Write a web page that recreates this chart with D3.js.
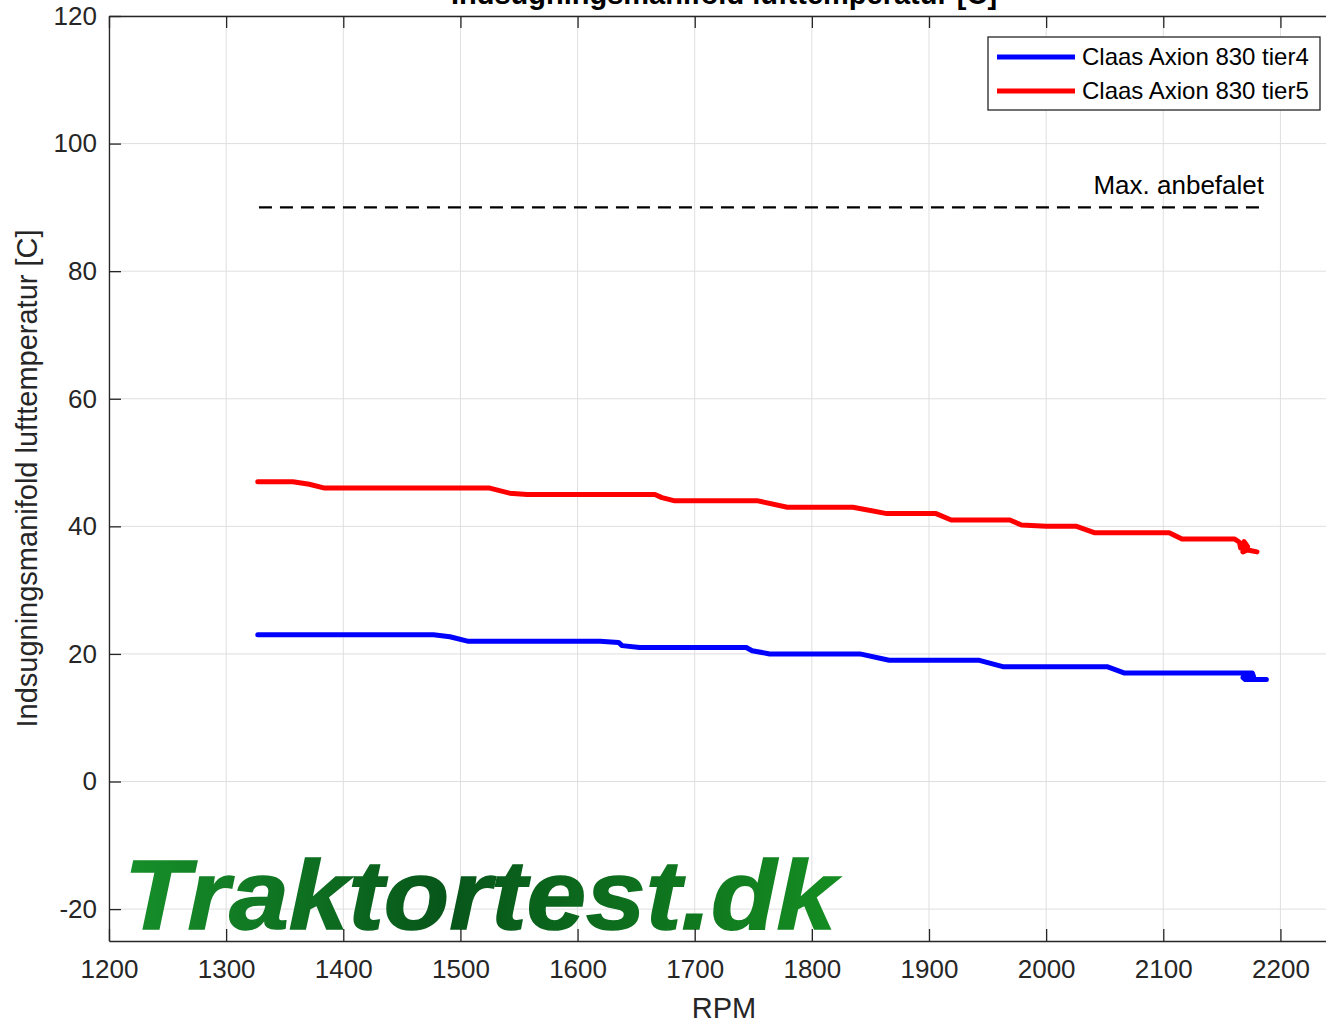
<!DOCTYPE html>
<html>
<head>
<meta charset="utf-8">
<script src="https://cdn.jsdelivr.net/npm/d3@7"></script>
<style>
  body { margin: 0; background: #fff; }
  svg { display: block; font-family: "Liberation Sans", Arial, sans-serif; }
</style>
</head>
<body>
<div id="chart"></div>
<script>
// values
const seriesNames = ["Claas Axion 830 tier4", "Claas Axion 830 tier5"];
const seriesColors = ["#0000ff", "#ff0000"];

const tier4Rpm = [1327, 1477, 1491, 1506, 1619, 1635, 1638, 1653, 1744, 1749, 1764, 1841, 1866, 1943, 1963, 2052, 2067, 2176, 2177, 2168, 2170, 2188];
const tier4Temp = [23, 23, 22.7, 22, 22, 21.8, 21.3, 21, 21, 20.5, 20, 20, 19, 19, 18, 18, 17, 17, 16.5, 16.3, 16, 16];

const tier5Rpm = [1327, 1357, 1371, 1384, 1525, 1542, 1557, 1666, 1672, 1683, 1754, 1779, 1835, 1864, 1906, 1919, 1969, 1979, 2000, 2026, 2041, 2105, 2116, 2161, 2165, 2166, 2169, 2172, 2168, 2172, 2180, 2175];
const tier5Temp = [47, 47, 46.6, 46, 46, 45.2, 45, 45, 44.5, 44, 44, 43, 43, 42, 42, 41, 41, 40.2, 40, 40, 39, 39, 38, 38, 37.5, 36.6, 37.6, 36.8, 36, 36.3, 36, 36.2];

const maxRecommended = 90;
const maxRpmRange = [1328, 2187];
const maxLabel = "Max. anbefalet";

const xTicks = d3.range(1200, 2201, 100);
const yTicks = [-20, 0, 20, 40, 60, 80, 100, 120];
const xDomain = [1200, 2250];
const yDomain = [-25, 120];

const titleText = "Indsugningsmanifold lufttemperatur [C]";
const xLabel = "RPM";
const yLabel = "Indsugningsmanifold lufttemperatur [C]";
const watermark = "Traktortest.dk";

const width = 1326, height = 1023;
const margin = {top: 16, right: -13, bottom: 82, left: 109};
const axisColor = "#262626";

const x = d3.scaleLinear().domain(xDomain).range([margin.left, width - margin.right]);
const y = d3.scaleLinear().domain(yDomain).range([height - margin.bottom, margin.top]);

const svg = d3.select("#chart").append("svg")
  .attr("width", width)
  .attr("height", height);

// watermark gradient
const grad = svg.append("defs").append("linearGradient")
  .attr("id", "wm").attr("x1", "0%").attr("x2", "100%").attr("y1", "0%").attr("y2", "0%");
grad.append("stop").attr("offset", "0%").attr("stop-color", "#17902a");
grad.append("stop").attr("offset", "45%").attr("stop-color", "#07561a");
grad.append("stop").attr("offset", "100%").attr("stop-color", "#158d22");

// grid
svg.append("g")
  .selectAll("line")
  .data(xTicks)
  .join("line")
  .attr("x1", d => x(d)).attr("x2", d => x(d))
  .attr("y1", y.range()[0]).attr("y2", y.range()[1])
  .attr("stroke", "#dfdfdf").attr("stroke-width", 1);
svg.append("g")
  .selectAll("line")
  .data(yTicks)
  .join("line")
  .attr("y1", d => y(d)).attr("y2", d => y(d))
  .attr("x1", x.range()[0]).attr("x2", x.range()[1])
  .attr("stroke", "#dfdfdf").attr("stroke-width", 1);

// watermark
svg.append("text")
  .attr("x", 124)
  .attr("y", 929)
  .attr("font-size", 98)
  .attr("font-weight", "bold")
  .attr("font-style", "italic")
  .attr("textLength", 712)
  .attr("lengthAdjust", "spacingAndGlyphs")
  .attr("fill", "url(#wm)")
  .attr("stroke", "url(#wm)")
  .attr("stroke-width", 1.5)
  .text(watermark);

// axes
const fmt = d => String(d);
const xAxisBottom = d3.axisBottom(x).tickValues(xTicks).tickFormat(fmt).tickSize(-12).tickPadding(19).tickSizeOuter(0);
const xAxisTop = d3.axisTop(x).tickValues(xTicks).tickSize(-12).tickFormat("").tickSizeOuter(0);
const yAxisLeft = d3.axisLeft(y).tickValues(yTicks).tickFormat(fmt).tickSize(-12).tickPadding(12).tickSizeOuter(0);

function styleAxis(g) {
  g.select(".domain").attr("stroke", axisColor).attr("stroke-width", 1.3);
  g.selectAll(".tick line").attr("stroke", axisColor).attr("stroke-width", 1.3);
  g.selectAll(".tick text").attr("fill", axisColor).attr("font-size", 26).attr("font-family", "Liberation Sans, Arial, sans-serif");
}

svg.append("g").attr("transform", `translate(0,${y.range()[0]})`).call(xAxisBottom).call(styleAxis);
svg.append("g").attr("transform", `translate(0,${y.range()[1]})`).call(xAxisTop).call(styleAxis);
svg.append("g").attr("transform", `translate(${x.range()[0]},0)`).call(yAxisLeft).call(styleAxis);

// max recommended line
svg.append("line")
  .attr("x1", x(maxRpmRange[0])).attr("x2", x(maxRpmRange[1]))
  .attr("y1", y(maxRecommended)).attr("y2", y(maxRecommended))
  .attr("stroke", "#000").attr("stroke-width", 2.2)
  .attr("stroke-dasharray", "13,8");
svg.append("text")
  .attr("x", x(2186))
  .attr("y", y(maxRecommended) - 13)
  .attr("text-anchor", "end")
  .attr("font-size", 26)
  .attr("fill", "#000")
  .text(maxLabel);

// series
const line = d3.line().x(d => x(d[0])).y(d => y(d[1]));
const series = [
  d3.zip(tier4Rpm, tier4Temp),
  d3.zip(tier5Rpm, tier5Temp)
];
svg.append("g")
  .selectAll("path")
  .data(series)
  .join("path")
  .attr("d", line)
  .attr("fill", "none")
  .attr("stroke", (d, i) => seriesColors[i])
  .attr("stroke-width", 5)
  .attr("stroke-linejoin", "round")
  .attr("stroke-linecap", "round");

// legend
const leg = svg.append("g").attr("transform", "translate(988,37)");
leg.append("rect")
  .attr("width", 332).attr("height", 73)
  .attr("fill", "#fff").attr("stroke", axisColor).attr("stroke-width", 1.3);
seriesNames.forEach((name, i) => {
  const yy = 20 + i * 34;
  leg.append("line")
    .attr("x1", 9).attr("x2", 87).attr("y1", yy).attr("y2", yy)
    .attr("stroke", seriesColors[i]).attr("stroke-width", 5);
  leg.append("text")
    .attr("x", 94).attr("y", yy + 8)
    .attr("font-size", 24).attr("fill", "#000")
    .text(name);
});

// title and labels (title is clipped at the top edge, as in the reference)
const cx = (x.range()[0] + x.range()[1]) / 2;
svg.append("text")
  .attr("x", cx).attr("y", 4)
  .attr("text-anchor", "middle")
  .attr("font-size", 29).attr("font-weight", "bold")
  .attr("fill", "#000")
  .text(titleText);
svg.append("text")
  .attr("x", cx).attr("y", 1018)
  .attr("text-anchor", "middle")
  .attr("font-size", 29).attr("fill", axisColor)
  .text(xLabel);
svg.append("text")
  .attr("transform", `translate(37,${(y.range()[0] + y.range()[1]) / 2}) rotate(-90)`)
  .attr("text-anchor", "middle")
  .attr("font-size", 29).attr("fill", axisColor)
  .text(yLabel);
</script>
</body>
</html>
